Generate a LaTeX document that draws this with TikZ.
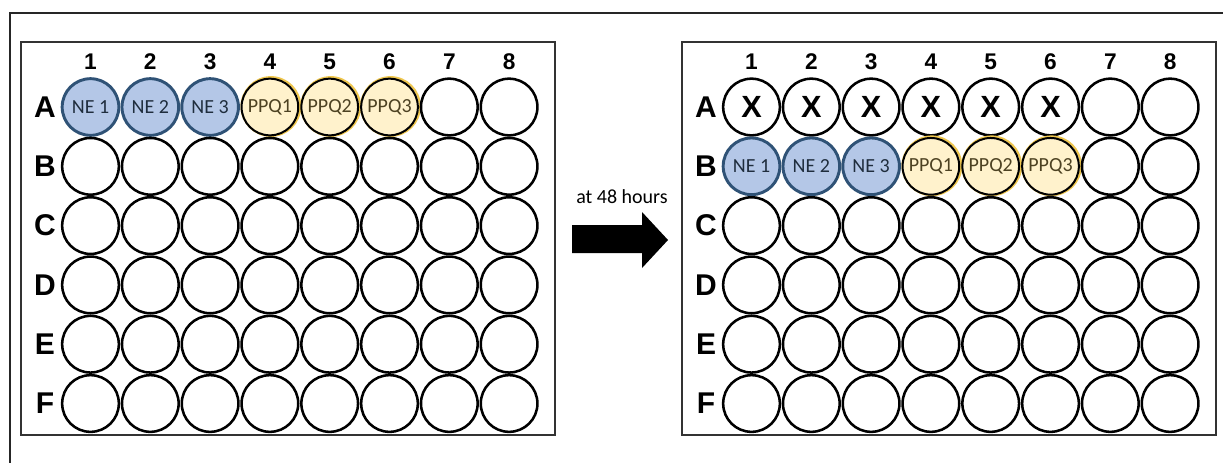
\documentclass[tikz,border=0pt]{standalone}
\usepackage{fontspec}
\setmainfont{Liberation Sans}
\newfontfamily\calfont{Carlito}
\definecolor{neFill}{HTML}{B4C7E7}
\definecolor{neLine}{HTML}{2F5276}
\definecolor{neText}{HTML}{1F2D3D}
\definecolor{ppqFill}{HTML}{FFF2CC}
\definecolor{ppqRing}{HTML}{F0C850}
\definecolor{ppqText}{HTML}{4D4222}
\definecolor{frameGray}{HTML}{333333}
\tikzset{
  well/.style={circle, draw=black, line width=1.9pt, minimum size=42.5pt, inner sep=0pt},
  newell/.style={well, draw=neLine, fill=neFill, line width=2.2pt,
    font=\calfont\fontsize{15}{17}\selectfont, text=neText},
  ppqwell/.style={well, fill=ppqFill, line width=1.5pt,
    font=\calfont\fontsize{15}{17}\selectfont, text=ppqText},
  ppqring/.style={circle, draw=ppqRing, line width=1.6pt, minimum size=44pt, inner sep=0pt},
  collabel/.style={font=\bfseries\fontsize{17}{20}\selectfont},
  rowlabel/.style={font=\bfseries\fontsize{22.5}{26}\selectfont},
  xmark/.style={font=\bfseries\fontsize{23}{26}\selectfont},
  plate/.style={draw=frameGray, line width=1.1pt, fill=white},
  caption/.style={font=\calfont\fontsize{15}{18}\selectfont}
}
\begin{document}
\begin{tikzpicture}[x=0.75pt,y=-0.75pt]
  \useasboundingbox (0,0) rectangle (1223,462);
  % outer frame (open to the right and bottom)
  \draw[line width=1.5pt, black!85] (10,470) -- (10,13) -- (1230,13);

  % the two plates: name, left edge offset
  \foreach \p/\dx in {L/0, R/661} {
    \draw[plate] (21+\dx,42) rectangle (555+\dx,435);
    \foreach \c in {1,...,8}
      \node[collabel] (\p-col\c) at ({90.5+59.8*(\c-1)+\dx},62) {\c};
    \foreach \r [count=\i from 0] in {A,B,C,D,E,F}
      \node[rowlabel] (\p-row\r) at (45+\dx,{107+59.3*\i}) {\r};
  }

  % left plate: samples in row A, rest empty
  \foreach \r [count=\i from 0] in {A,B,C,D,E,F} {
    \foreach \c in {1,...,8} {
      \pgfmathsetmacro{\xx}{90.5+59.8*(\c-1)}
      \pgfmathsetmacro{\yy}{107+59.3*\i}
      \ifnum\i=0
        \ifnum\c<4
          \node[newell] (L-\r\c) at (\xx,\yy) {NE \c};
        \else\ifnum\c<7
          \pgfmathtruncatemacro{\k}{\c-3}
          \node[ppqring] at (\xx+1,\yy-0.5) {};
          \node[ppqwell] (L-\r\c) at (\xx,\yy) {PPQ\k};
        \else
          \node[well] (L-\r\c) at (\xx,\yy) {};
        \fi\fi
      \else
        \node[well] (L-\r\c) at (\xx,\yy) {};
      \fi
    }
  }

  % right plate: row A discarded, samples moved to row B
  \foreach \r [count=\i from 0] in {A,B,C,D,E,F} {
    \foreach \c in {1,...,8} {
      \pgfmathsetmacro{\xx}{751.5+59.8*(\c-1)}
      \pgfmathsetmacro{\yy}{107+59.3*\i}
      \ifnum\i=0
        \ifnum\c<7
          \node[well, xmark] (R-\r\c) at (\xx,\yy) {X};
        \else
          \node[well] (R-\r\c) at (\xx,\yy) {};
        \fi
      \else\ifnum\i=1
        \ifnum\c<4
          \node[newell] (R-\r\c) at (\xx,\yy) {NE \c};
        \else\ifnum\c<7
          \pgfmathtruncatemacro{\k}{\c-3}
          \node[ppqring] at (\xx+1,\yy-0.5) {};
          \node[ppqwell] (R-\r\c) at (\xx,\yy) {PPQ\k};
        \else
          \node[well] (R-\r\c) at (\xx,\yy) {};
        \fi\fi
      \else
        \node[well] (R-\r\c) at (\xx,\yy) {};
      \fi\fi
    }
  }

  % block arrow between the plates
  \fill[black] (572,225) -- (642,225) -- (642,212) -- (668,240)
    -- (642,268) -- (642,253) -- (572,253) -- cycle;
  \node[caption] (timelabel) at (622,197) {at 48 hours};
\end{tikzpicture}
\end{document}
